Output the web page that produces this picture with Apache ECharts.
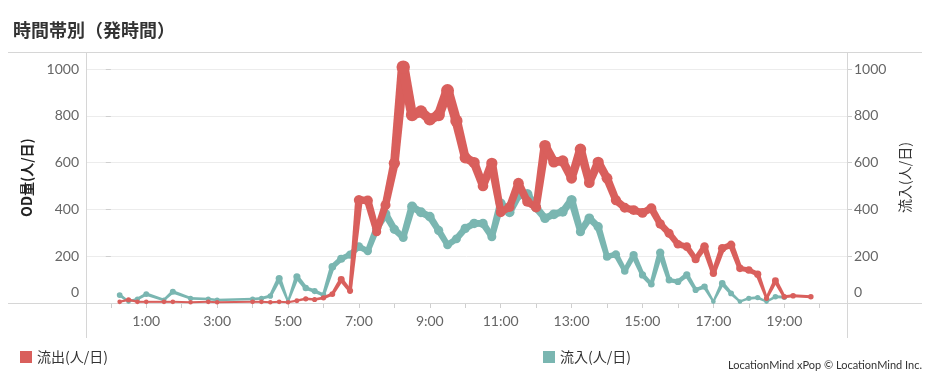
<!DOCTYPE html>
<html>
<head>
<meta charset="utf-8">
<script src="https://cdn.jsdelivr.net/npm/echarts@6/dist/echarts.min.js"></script>
<style>
html,body{margin:0;padding:0;background:#fff;}
#chart{width:928px;height:374px;}
</style>
</head>
<body>
<div id="chart"></div>
<script>
// ---- data ----
const timeLabels = ['0:15','0:30','0:45','1:00','1:30','1:45','2:15','2:45','3:00',
  '4:00','4:15','4:30','4:45','5:00','5:15','5:30','5:45',
  '6:00','6:15','6:30','6:45','7:00','7:15','7:30','7:45','8:00','8:15','8:30','8:45',
  '9:00','9:15','9:30','9:45','10:00','10:15','10:30','10:45','11:00','11:15','11:30','11:45',
  '12:00','12:15','12:30','12:45','13:00','13:15','13:30','13:45','14:00','14:15','14:30','14:45',
  '15:00','15:15','15:30','15:45','16:00','16:15','16:30','16:45','17:00','17:15','17:30','17:45',
  '18:00','18:15','18:30','18:45','19:00','19:15','19:45'];
const outflow = [5,14,5,5,5,5,3,5,3,
  5,5,3,5,3,10,18,15,
  22,38,100,52,440,438,305,419,597,1008,803,818,
  785,803,908,778,621,600,500,597,388,410,512,433,
  408,672,603,607,533,657,514,601,533,440,407,397,
  385,405,338,298,251,241,187,241,127,234,248,148,
  141,123,20,95,27,31,27];
const inflow = [34,6,17,38,13,48,20,17,13,
  17,20,30,105,6,112,64,51,
  34,155,189,207,241,222,319,380,315,280,412,388,
  369,310,248,274,319,340,340,283,425,388,462,465,
  408,362,379,390,440,305,362,326,198,208,137,205,
  120,80,215,98,91,120,56,70,6,84,41,6,
  20,23,6,27,25,null,null];
const xLabelTimes = ['1:00','3:00','5:00','7:00','9:00','11:00','13:00','15:00','17:00','19:00'];
const xTickTimes = ['0:00','1:00','2:00','3:00','4:00','5:00','6:00','7:00','8:00','9:00','10:00',
  '11:00','12:00','13:00','14:00','15:00','16:00','17:00','18:00','19:00','20:00'];
const yTicks = [0,200,400,600,800,1000];
const titleText = '時間帯別（発時間）';
const outName = '流出(人/日)';
const inName = '流入(人/日)';
const leftAxisName = 'OD量(人/日)';
const rightAxisName = '流入(人/日)';
const footerText = 'LocationMind xPop © LocationMind Inc.';

// ---- helpers ----
const RED = '#d95f5c';
const TEAL = '#7ab6b1';
const FONT = 'Lato, "Noto Sans CJK JP", sans-serif';
const CJK = '"Noto Sans CJK JP", Lato, sans-serif';
function toHours(s){ const p = s.split(':'); return +p[0] + (+p[1])/60; }
function widthOf(v){ return 1.4 + 9.4*Math.sqrt(Math.max(v,0)/1000); }
function buildPts(vals){
  const out = [];
  timeLabels.forEach((t,i)=>{ if (vals[i] !== null && vals[i] !== undefined) out.push([toHours(t), vals[i]]); });
  return out;
}
const redPts = buildPts(outflow);
const tealPts = buildPts(inflow);

function makeRender(pts, color){
  return function(params, api){
    const i = params.dataIndex;
    const p0 = api.coord([pts[i][0], pts[i][1]]);
    const w0 = widthOf(pts[i][1]);
    const children = [];
    if (i < pts.length - 1) {
      const p1 = api.coord([pts[i+1][0], pts[i+1][1]]);
      const w1 = widthOf(pts[i+1][1]);
      const dx = p1[0]-p0[0], dy = p1[1]-p0[1];
      const L = Math.hypot(dx,dy) || 1;
      const nx = -dy/L, ny = dx/L;
      children.push({type:'polygon', shape:{points:[
        [p0[0]+nx*w0/2, p0[1]+ny*w0/2],
        [p1[0]+nx*w1/2, p1[1]+ny*w1/2],
        [p1[0]-nx*w1/2, p1[1]-ny*w1/2],
        [p0[0]-nx*w0/2, p0[1]-ny*w0/2]]}, style:{fill:color}});
    }
    children.push({type:'circle', shape:{cx:p0[0], cy:p0[1], r:w0/2+1.3}, style:{fill:color}});
    return {type:'group', children};
  };
}

const yLabelCommon = {
  color:'#666', fontSize:14, fontFamily:FONT,
  customValues: yTicks,
  formatter: function(v){ return v === 0 ? '{z|0}' : String(v); },
  rich: { z: { color:'#666', fontSize:14, fontFamily:FONT, padding:[0,0,22,0] } }
};

const chart = echarts.init(document.getElementById('chart'), null, {renderer:'canvas'});
const option = {
  animation: false,
  title: {
    text: titleText, left: 8, top: 16,
    textStyle: { fontSize: 18, fontWeight: 'bold', color: '#333', fontFamily: CJK }
  },
  grid: { left: 86, right: 81, top: 52, bottom: 71, containLabel: false },
  xAxis: {
    type: 'value', min: -0.7, max: 20.77,
    axisLine: { show: false },
    splitLine: { show: false },
    axisTick: { show: true, customValues: xTickTimes.map(toHours), length: 5, lineStyle: { color: '#cfcfcf' } },
    axisLabel: {
      customValues: xLabelTimes.map(toHours), margin: 11,
      color: '#666', fontSize: 14, fontFamily: FONT,
      formatter: function(v){ const h = Math.round(v); return h + ':00'; }
    }
  },
  yAxis: [
    {
      type: 'value', min: 0, max: 1072.6, interval: 200, position: 'left',
      name: leftAxisName, nameLocation: 'middle', nameRotate: 90, nameGap: 52,
      nameTextStyle: { fontSize: 14, fontWeight: 'bold', color: '#222', fontFamily: CJK },
      axisLine: { show: false },
      axisTick: { show: true, customValues: yTicks, length: 5, lineStyle: { color: '#cfcfcf' } },
      axisLabel: Object.assign({ margin: 7 }, yLabelCommon),
      splitLine: { show: true, lineStyle: { color: '#ececec', width: 1 } }
    },
    {
      type: 'value', min: 0, max: 1072.6, interval: 200, position: 'right',
      name: rightAxisName, nameLocation: 'middle', nameRotate: 90, nameGap: 49,
      nameTextStyle: { fontSize: 14, color: '#333', fontFamily: CJK },
      axisLine: { show: false },
      axisTick: { show: true, customValues: yTicks, length: 5, lineStyle: { color: '#cfcfcf' } },
      axisLabel: Object.assign({ margin: 7 }, yLabelCommon),
      splitLine: { show: false }
    }
  ],
  legend: [
    { data: [outName], left: 15, top: 345, icon: 'rect', itemWidth: 12, itemHeight: 12, itemGap: 8,
      textStyle: { fontSize: 14, color: '#333', fontFamily: CJK } },
    { data: [inName], left: 538, top: 345, icon: 'rect', itemWidth: 12, itemHeight: 12, itemGap: 8,
      textStyle: { fontSize: 14, color: '#333', fontFamily: CJK } }
  ],
  graphic: [
    { type: 'line', z: 1, silent: true, shape: { x1: 8, y1: 52.5, x2: 922, y2: 52.5 }, style: { stroke: '#d6d6d6', lineWidth: 1 } },
    { type: 'line', z: 1, silent: true, shape: { x1: 8, y1: 303.5, x2: 922, y2: 303.5 }, style: { stroke: '#d6d6d6', lineWidth: 1 } },
    { type: 'line', z: 1, silent: true, shape: { x1: 86.5, y1: 52, x2: 86.5, y2: 338 }, style: { stroke: '#d6d6d6', lineWidth: 1 } },
    { type: 'line', z: 1, silent: true, shape: { x1: 847.5, y1: 52, x2: 847.5, y2: 338 }, style: { stroke: '#d6d6d6', lineWidth: 1 } },
    { type: 'text', right: 6, top: 360, silent: true,
      style: { text: footerText, fontSize: 11, fill: '#333', fontFamily: FONT } }
  ],
  series: [
    {
      name: inName, type: 'custom', yAxisIndex: 1, z: 3,
      itemStyle: { color: TEAL },
      encode: { x: 0, y: 1 },
      data: tealPts,
      renderItem: makeRender(tealPts, TEAL)
    },
    {
      name: outName, type: 'custom', yAxisIndex: 0, z: 4,
      itemStyle: { color: RED },
      encode: { x: 0, y: 1 },
      data: redPts,
      renderItem: makeRender(redPts, RED)
    }
  ]
};
chart.setOption(option);
</script>
</body>
</html>
